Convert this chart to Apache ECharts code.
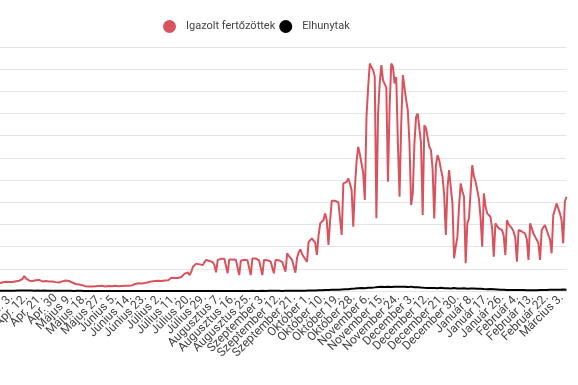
<!DOCTYPE html>
<html>
<head>
<meta charset="utf-8">
<script src="https://cdn.jsdelivr.net/npm/echarts@6/dist/echarts.min.js"></script>
<style>
html,body{margin:0;padding:0;background:#fff;overflow:hidden;width:578px;height:385px;}
#chart{position:absolute;left:-100px;top:0;width:678px;height:385px;}
</style>
</head>
<body>
<div id="chart"></div>
<script>
// Daily data, index 0 = 2020. március 4.; tick labels every 9th day starting at index 3
const tickLabels = ["Március 7.", "Március 16.", "Március 25.", "Ápr. 3.", "Ápr. 12.", "Ápr. 21.", "Ápr. 30", "Május 9.", "Május 18.", "Május 27.", "Június 5.", "Június 14.", "Június 23.", "Július 2.", "Július 11.", "Július 20.", "Július 29.", "Augusztus 7.", "Augusztus 16.", "Augusztus 25.", "Szeptember 3.", "Szeptember 12.", "Szeptember 21.", "Október 1.", "Október 10.", "Október 19.", "Október 28.", "November 6.", "November 15.", "November 24.", "December 3.", "December 12.", "December 21.", "December 30.", "Január 8.", "Január 17.", "Január 26.", "Február 4.", "Február 13.", "Február 22.", "Március 3."];
const firstTickIndex = 3;
const tickStep = 9;

const confirmed = [
 2, 0, 3, 4, 6, 2, 6, 7, 13, 3,
 11, 7, 19, 12, 8, 11, 36, 20, 38, 35,
 63, 90, 150, 210, 195, 235, 220, 250, 215, 245,
 260, 245, 270, 265, 240, 280, 300, 330, 405, 340,
 300, 280, 250, 270, 310, 290, 255, 300, 280, 260,
 250, 270, 245, 260, 240, 255, 265, 240, 250, 230,
 255, 260, 275, 285, 280, 270, 250, 230, 200, 190,
 180, 175, 170, 160, 140, 130, 145, 125, 135, 120,
 140, 130, 125, 135, 115, 140, 130, 120, 125, 135,
 120, 130, 115, 140, 125, 130, 120, 135, 125, 140,
 130, 145, 135, 150, 165, 190, 180, 210, 225, 205,
 230, 215, 225, 235, 250, 260, 240, 270, 255, 280,
 290, 270, 300, 285, 300, 290, 330, 360, 400, 350,
 330, 350, 345, 380, 430, 470, 520, 500, 430, 520,
 655, 700, 740, 765, 720, 675, 700, 780, 840, 830,
 810, 790, 780, 700, 505, 840, 860, 870, 885, 870,
 850, 480, 855, 860, 850, 855, 845, 830, 430, 820,
 840, 845, 840, 830, 800, 430, 880, 925, 880, 840,
 830, 820, 430, 840, 840, 830, 820, 800, 790, 480,
 840, 840, 830, 800, 790, 760, 520, 1020, 950, 900,
 840, 800, 495, 900, 1050, 1125, 1000, 925, 880, 790,
 1330, 1380, 1425, 1400, 1300, 975, 1500, 1830, 1870, 1920,
 2100, 1900, 1245, 1900, 2440, 2450, 2440, 2420, 2400, 2370,
 1515, 2910, 2920, 2950, 3045, 2900, 2730, 1740, 2810, 3500,
 3900, 3700, 3450, 3200, 2460, 4710, 5500, 6155, 6050, 5975,
 5800, 1965, 4800, 5615, 6110, 5705, 5655, 5500, 2955, 5000,
 6155, 6065, 5615, 5790, 4000, 2550, 4500, 5840, 5500, 5165,
 4890, 4000, 2325, 2640, 4000, 4710, 4800, 4845, 4000, 2055,
 4485, 4400, 4350, 3900, 3810, 3300, 1965, 3400, 3675, 3540,
 3300, 3090, 2600, 1515, 2800, 3270, 2800, 2370, 885, 1200,
 1470, 2300, 2910, 2700, 2550, 750, 1830, 1965, 2700, 3405,
 3100, 2955, 2730, 2500, 2000, 1200, 2640, 2300, 2100, 2050,
 2010, 1700, 925, 1830, 1760, 1695, 1695, 1650, 1500, 975,
 1920, 1800, 1750, 1695, 1605, 1450, 790, 1650, 1620, 1610,
 1605, 1550, 1400, 840, 1830, 1700, 1560, 1470, 1450, 1300,
 840, 1650, 1720, 1785, 1650, 1515, 1400, 1020, 2055, 2200,
 2370, 2235, 2100, 1920, 1290, 2415, 2550
];

const deaths = [
 0, 0, 0, 0, 0, 0, 0, 0, 0, 0,
 0, 1, 0, 1, 1, 1, 1, 0, 2, 1,
 3, 2, 1, 3, 4, 5, 4, 6, 4, 8,
 9, 10, 9, 7, 11, 13, 12, 10, 14, 12,
 13, 11, 14, 12, 10, 13, 11, 12, 10, 9,
 11, 8, 10, 9, 7, 10, 8, 9, 6, 7,
 8, 6, 7, 5, 6, 4, 5, 6, 3, 4,
 5, 3, 4, 2, 3, 4, 2, 3, 1, 2,
 1, 0, 2, 1, 0, 1, 0, 1, 2, 0,
 1, 1, 0, 2, 1, 0, 1, 0, 0, 1,
 0, 1, 0, 0, 1, 0, 0, 1, 0, 0,
 0, 1, 0, 0, 0, 1, 0, 0, 1, 0,
 0, 0, 1, 0, 0, 0, 1, 0, 0, 1,
 0, 1, 0, 0, 1, 0, 1, 0, 0, 1,
 1, 0, 2, 1, 0, 1, 1, 2, 0, 1,
 2, 1, 1, 0, 2, 1, 3, 1, 2, 1,
 2, 3, 1, 2, 2, 1, 3, 2, 1, 2,
 3, 2, 2, 1, 3, 2, 4, 2, 3, 2,
 3, 2, 4, 3, 2, 3, 4, 3, 5, 3,
 4, 3, 5, 4, 3, 5, 4, 6, 4, 5,
 4, 6, 5, 7, 8, 6, 9, 10, 8, 11,
 12, 14, 13, 16, 15, 18, 20, 19, 22, 24,
 25, 28, 26, 30, 32, 35, 33, 38, 36, 40,
 42, 45, 48, 52, 50, 55, 60, 58, 65, 70,
 75, 72, 78, 80, 76, 82, 85, 90, 88, 95,
 98, 105, 110, 102, 115, 120, 108, 112, 118, 125,
 110, 105, 115, 122, 118, 108, 112, 120, 115, 110,
 105, 112, 118, 108, 102, 110, 100, 95, 92, 88,
 85, 90, 82, 86, 80, 84, 78, 82, 76, 80,
 85, 78, 74, 80, 72, 76, 70, 74, 78, 72,
 68, 75, 70, 66, 72, 68, 64, 70, 66, 62,
 68, 64, 60, 62, 58, 55, 52, 56, 50, 48,
 52, 46, 50, 44, 42, 35, 32, 30, 34, 28,
 30, 26, 29, 24, 27, 22, 25, 20, 24, 22,
 26, 20, 23, 19, 22, 18, 21, 24, 20, 22,
 25, 23, 26, 28, 30, 26, 32, 29, 34, 30,
 36, 32, 35, 30, 38, 34, 36
];

const categories = confirmed.map((_, i) => String(i));
const lastIndex = categories.length - 1;

const chart = echarts.init(document.getElementById('chart'), null, {renderer: 'canvas'});
chart.setOption({
  animation: false,
  backgroundColor: '#fff',
  legend: {
    left: 258,
    top: 15,
    icon: 'circle',
    itemWidth: 23,
    itemHeight: 13,
    itemGap: 4,
    textStyle: {fontFamily: 'Roboto', fontSize: 11, color: '#444'},
    data: ['Igazolt fertőzöttek', 'Elhunytak']
  },
  grid: {left: 61.5, right: 11.5, top: 47, bottom: 94, containLabel: false},
  xAxis: {
    type: 'category',
    boundaryGap: false,
    data: categories,
    axisLine: {show: false},
    axisTick: {show: false},
    splitLine: {show: false},
    axisLabel: {
      rotate: 45,
      margin: 5,
      fontFamily: 'Roboto',
      fontSize: 12,
      color: '#444',
      interval: function (idx) {
        return idx === 0 || idx === lastIndex || (idx >= firstTickIndex && (idx - firstTickIndex) % tickStep === 0);
      },
      formatter: function (val) {
        const idx = parseInt(val, 10);
        const k = (idx - firstTickIndex) / tickStep;
        return Number.isInteger(k) && k >= 0 && k < tickLabels.length ? tickLabels[k] : '';
      }
    }
  },
  yAxis: {
    type: 'value',
    min: 0,
    max: 6600,
    interval: 600,
    axisLabel: {show: false},
    axisLine: {show: false},
    axisTick: {show: false},
    splitLine: {lineStyle: {color: '#e4e4e4', width: 1}}
  },
  series: [
    {
      name: 'Igazolt fertőzöttek',
      type: 'line',
      data: confirmed,
      showSymbol: false,
      symbol: 'circle',
      itemStyle: {color: '#d9535e'},
      lineStyle: {color: '#d9535e', width: 2}
    },
    {
      name: 'Elhunytak',
      type: 'line',
      data: deaths,
      showSymbol: false,
      symbol: 'circle',
      itemStyle: {color: '#000'},
      lineStyle: {color: '#000', width: 2}
    }
  ]
});
</script>
</body>
</html>
